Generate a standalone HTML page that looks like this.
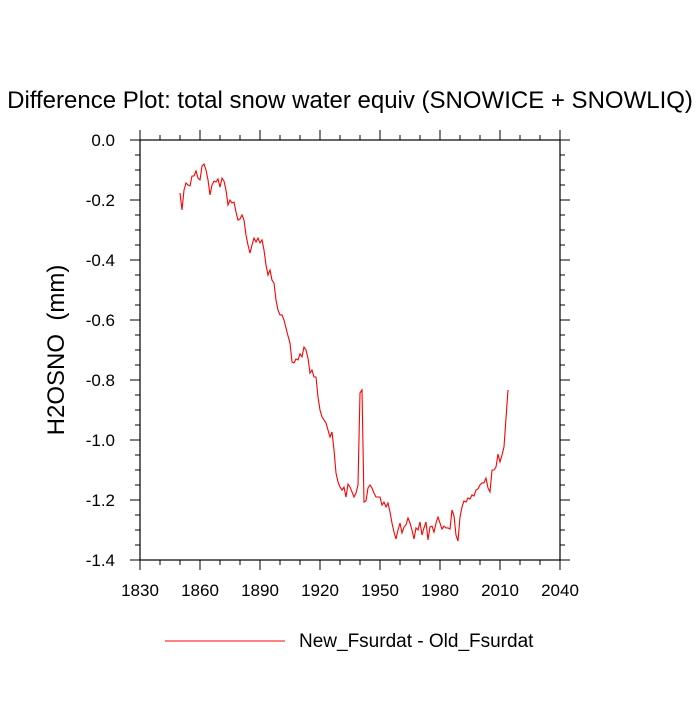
<!DOCTYPE html>
<html><head><meta charset="utf-8"><style>
body{margin:0;background:#fff}
svg text{font-family:"Liberation Sans",sans-serif;fill:#000}
</style></head><body>
<svg id="chart" width="700" height="700" viewBox="0 0 700 700">
<text x="350" y="108" font-size="24" text-anchor="middle">Difference Plot: total snow water equiv (SNOWICE + SNOWLIQ)</text>
<text transform="translate(64,350) rotate(-90)" font-size="24" text-anchor="middle" style="white-space:pre">H2OSNO  (mm)</text>
<g id="axes"></g>
<path id="series" fill="none" stroke="#ff0000" stroke-width="1.1"></path>
<rect x="140" y="140" width="420" height="420" fill="none" stroke="#000" stroke-width="1.2"></rect>
<line x1="165" y1="641" x2="285" y2="641" stroke="#ff0000" stroke-width="1.1"></line>
<text x="299" y="647" font-size="19">New_Fsurdat - Old_Fsurdat</text>
</svg>
<script>
const startYear = 1850;
const values = [-0.177,-0.233,-0.167,-0.143,-0.15,-0.153,-0.12,-0.12,-0.103,-0.127,
-0.133,-0.087,-0.08,-0.10,-0.133,-0.183,-0.15,-0.137,-0.14,-0.13,
-0.157,-0.127,-0.137,-0.167,-0.217,-0.20,-0.21,-0.207,-0.24,-0.267,
-0.263,-0.25,-0.267,-0.317,-0.35,-0.377,-0.35,-0.327,-0.34,-0.327,
-0.343,-0.333,-0.367,-0.417,-0.45,-0.433,-0.467,-0.477,-0.533,-0.567,
-0.583,-0.583,-0.60,-0.627,-0.653,-0.677,-0.74,-0.743,-0.73,-0.733,
-0.713,-0.723,-0.69,-0.70,-0.727,-0.777,-0.767,-0.79,-0.79,-0.857,
-0.90,-0.923,-0.933,-0.943,-0.967,-0.99,-0.973,-1.033,-1.11,-1.14,
-1.157,-1.167,-1.157,-1.19,-1.147,-1.157,-1.173,-1.19,-1.177,-1.15,
-0.843,-0.833,-1.207,-1.203,-1.16,-1.15,-1.16,-1.177,-1.19,-1.19,
-1.19,-1.217,-1.207,-1.223,-1.21,-1.24,-1.277,-1.307,-1.33,-1.30,
-1.277,-1.31,-1.29,-1.283,-1.26,-1.277,-1.30,-1.33,-1.293,-1.30,
-1.273,-1.317,-1.293,-1.273,-1.333,-1.29,-1.287,-1.307,-1.277,-1.257,
-1.277,-1.297,-1.287,-1.293,-1.293,-1.297,-1.233,-1.253,-1.317,-1.337,
-1.257,-1.223,-1.203,-1.207,-1.193,-1.197,-1.183,-1.187,-1.167,-1.163,
-1.15,-1.143,-1.143,-1.127,-1.16,-1.173,-1.10,-1.10,-1.09,-1.047,
-1.073,-1.05,-1.023,-0.927,-0.833];
const xTicks = [1830,1860,1890,1920,1950,1980,2010,2040];
const yTicks = [0.0,-0.2,-0.4,-0.6,-0.8,-1.0,-1.2,-1.4];
const xMin=1830,xMax=2040,yMin=-1.4,yMax=0;
const L=140,R=560,T=140,B=560;
const sx=v=>L+(v-xMin)/(xMax-xMin)*(R-L);
const sy=v=>B-(v-yMin)/(yMax-yMin)*(B-T);
const NS="http://www.w3.org/2000/svg";
const ax=document.getElementById('axes');
function ln(x1,y1,x2,y2,name){const l=document.createElementNS(NS,'line');
l.setAttribute('x1',x1);l.setAttribute('y1',y1);l.setAttribute('x2',x2);l.setAttribute('y2',y2);
l.setAttribute('stroke','#000');l.setAttribute('stroke-width','1');


ax.appendChild(l);}
function tx(x,y,s,anchor,name){const t=document.createElementNS(NS,'text');
t.setAttribute('x',x);t.setAttribute('y',y);t.setAttribute('font-size','17');t.setAttribute('text-anchor',anchor);t.textContent=s;


ax.appendChild(t);}
for(let v=xMin;v<=xMax;v+=10){const x=sx(v);const maj=(v-xMin)%30===0;const len=maj?10:5;
ln(x,B,x,B+len,'x-tick');ln(x,T,x,T-len,'x-tick-top');}
xTicks.forEach(v=>tx(sx(v),B+36,String(v),'middle','x-tick-label'));
for(let i=0;i<=28;i++){const v=-i*0.05;const y=sy(v);const maj=i%4===0;const len=maj?10:5;
ln(L,y,L-len,y,'y-tick');ln(R,y,R+len,y,'y-tick-right');}
yTicks.forEach(v=>tx(L-25,sy(v)+6,v.toFixed(1),'end','y-tick-label'));
document.getElementById('series').setAttribute('d',values.map((v,i)=>(i?'L':'M')+sx(startYear+i).toFixed(1)+','+sy(v).toFixed(1)).join(''));
</script>
</body></html>
